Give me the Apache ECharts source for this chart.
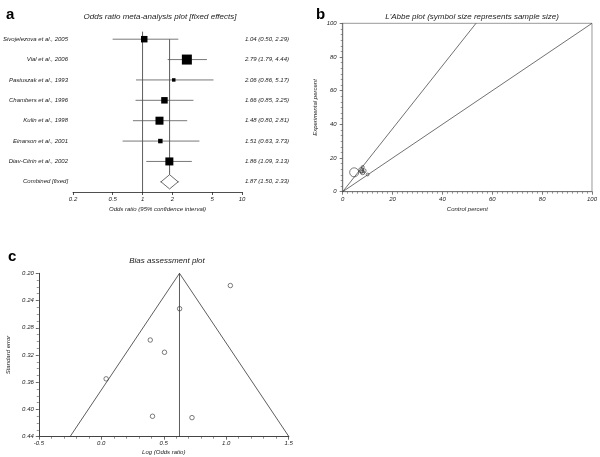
<!DOCTYPE html>
<html><head><meta charset="utf-8">
<script src="https://cdn.jsdelivr.net/npm/echarts@6/dist/echarts.min.js"></script>
<style>html,body{margin:0;padding:0;background:#fff}#c{width:600px;height:457px}</style>
</head><body><div id="c"></div><script>
// ---- Panel a: forest plot data ----
const studies = ['Sivojelezova et al., 2005','Vial et al., 2006','Pastuszak et al., 1993','Chambers et al., 1996','Kulin et al., 1998','Einarson et al., 2001','Diav-Citrin et al., 2002'];
const orEst  = [1.04, 2.79, 2.06, 1.66, 1.48, 1.51, 1.86];
const orLow  = [0.50, 1.79, 0.86, 0.85, 0.80, 0.63, 1.09];
const orHigh = [2.29, 4.44, 5.17, 3.25, 2.81, 3.73, 3.13];
const studyWeights = [0.42, 1.0, 0.12, 0.42, 0.64, 0.2, 0.64];
const pooledLabel = 'Combined [fixed]';
const pooledOR = 1.87, pooledLow = 1.50, pooledHigh = 2.33;
const oddsTicks = [0.2, 0.5, 1, 2, 5, 10];
// ---- Panel b: L'Abbe plot data ----
const controlPct = [4.6, 7.4, 8.0, 8.6, 8.0, 10.0, 7.6];
const experimentalPct = [11.5, 12.8, 14.6, 12.4, 11.4, 10.2, 12.0];
const sampleSize = [250, 80, 30, 50, 60, 25, 40];
// ---- Panel c: bias assessment (funnel) data ----
const funnelLogOR = [0.039, 1.033, 0.726, 0.506, 0.392, 0.410, 0.627];
const funnelSE    = [0.355, 0.218, 0.412, 0.316, 0.298, 0.410, 0.252];
const seRange = [0.20, 0.44];
const funnelHalfWidth = 0.876;   // half width of the funnel at the largest SE

const FONT = "'Liberation Sans', Arial, sans-serif";
const lg = Math.log10;
const fmtCI = (v, l, h) => `${v.toFixed(2)} (${l.toFixed(2)}, ${h.toFixed(2)})`;
const rowLabels = studies.concat([pooledLabel]);
const ciLabels = orEst.map((v, i) => fmtCI(v, orLow[i], orHigh[i])).concat([fmtCI(pooledOR, pooledLow, pooledHigh)]);
const forestData = orEst.map((v, i) => [lg(orLow[i]), lg(orHigh[i]), lg(v), i, 10 * Math.sqrt(studyWeights[i])]);
const pooledRow = studies.length;
const pooledLog = Math.log(pooledOR);
const lab = {fontFamily: FONT, fontStyle: 'italic', fontSize: 6, color: '#222'};

const chart = echarts.init(document.getElementById('c'));
const option = {
  animation: false,
  title: [
    {text: 'a', left: 1, top: 2, textStyle: {fontFamily: FONT, fontWeight: 'bold', fontSize: 15, color: '#000'}},
    {text: 'b', left: 311, top: 2, textStyle: {fontFamily: FONT, fontWeight: 'bold', fontSize: 15, color: '#000'}},
    {text: 'c', left: 3, top: 244, textStyle: {fontFamily: FONT, fontWeight: 'bold', fontSize: 15, color: '#000'}},
    {text: 'Odds ratio meta-analysis plot [fixed effects]', left: 155, top: 8, textAlign: 'center', textStyle: {fontFamily: FONT, fontStyle: 'italic', fontWeight: 'normal', fontSize: 8, color: '#222'}},
    {text: "L'Abbe plot (symbol size represents sample size)", left: 467, top: 8, textAlign: 'center', textStyle: {fontFamily: FONT, fontStyle: 'italic', fontWeight: 'normal', fontSize: 8, color: '#222'}},
    {text: 'Bias assessment plot', left: 162, top: 252, textAlign: 'center', textStyle: {fontFamily: FONT, fontStyle: 'italic', fontWeight: 'normal', fontSize: 8, color: '#222'}}
  ],
  grid: [
    {left: 67.7, top: 29, width: 174.3, height: 163},
    {left: 342.7, top: 23.3, width: 252.6, height: 168.4, show: true, borderColor: '#999', borderWidth: 1},
    {left: 38.8, top: 273.3, width: 249.9, height: 163.4}
  ],
  xAxis: [
    {gridIndex: 0, type: 'value', min: lg(oddsTicks[0]), max: lg(oddsTicks[oddsTicks.length - 1]),
     axisLine: {show: true, onZero: false, lineStyle: {color: '#222', width: 0.8}},
     axisTick: {show: true, length: 3, customValues: oddsTicks.map(lg), lineStyle: {color: '#222', width: 0.8}},
     axisLabel: Object.assign({margin: 4, customValues: oddsTicks.map(lg),
       formatter: v => { let best = oddsTicks[0]; oddsTicks.forEach(t => { if (Math.abs(lg(t) - v) < Math.abs(lg(best) - v)) best = t; }); return String(best); }}, lab),
     splitLine: {show: false},
     name: 'Odds ratio (95% confidence interval)', nameLocation: 'middle', nameGap: 14, nameTextStyle: lab},
    {gridIndex: 1, type: 'value', min: 0, max: 100, interval: 20,
     axisLine: {show: true, onZero: false, lineStyle: {color: '#777', width: 1.2}},
     axisTick: {show: true, length: 3, lineStyle: {color: '#555', width: 0.8}},
     minorTick: {show: true, splitNumber: 10, length: 2, lineStyle: {color: '#555', width: 0.6}},
     axisLabel: Object.assign({margin: 5}, lab), splitLine: {show: false},
     name: 'Control percent', nameLocation: 'middle', nameGap: 15, nameTextStyle: lab},
    {gridIndex: 2, type: 'value', min: -0.5, max: 1.5, interval: 0.5,
     axisLine: {show: true, onZero: false, lineStyle: {color: '#444', width: 1}},
     axisTick: {show: true, length: 3, lineStyle: {color: '#444', width: 0.8}},
     minorTick: {show: true, splitNumber: 5, length: 2, lineStyle: {color: '#444', width: 0.6}},
     axisLabel: Object.assign({margin: 4, formatter: v => v.toFixed(1)}, lab), splitLine: {show: false},
     name: 'Log (Odds ratio)', nameLocation: 'middle', nameGap: 13, nameTextStyle: lab}
  ],
  yAxis: [
    {gridIndex: 0, type: 'category', inverse: true, data: rowLabels,
     axisLine: {show: false}, axisTick: {show: false}, axisLabel: Object.assign({margin: 5}, lab)},
    {gridIndex: 0, type: 'category', inverse: true, position: 'right', data: ciLabels,
     axisLine: {show: false}, axisTick: {show: false}, axisLabel: Object.assign({margin: 3}, lab)},
    {gridIndex: 1, type: 'value', min: 0, max: 100, interval: 20,
     axisLine: {show: true, onZero: false, lineStyle: {color: '#777', width: 1.2}},
     axisTick: {show: true, length: 3, lineStyle: {color: '#555', width: 0.8}},
     minorTick: {show: true, splitNumber: 6, length: 2, lineStyle: {color: '#555', width: 0.6}},
     axisLabel: Object.assign({margin: 6}, lab), splitLine: {show: false},
     name: 'Experimental percent', nameLocation: 'middle', nameRotate: 90, nameGap: 24, nameTextStyle: lab},
    {gridIndex: 2, type: 'value', inverse: true, min: seRange[0], max: seRange[1], interval: 0.04,
     axisLine: {show: true, onZero: false, lineStyle: {color: '#444', width: 1}},
     axisTick: {show: true, length: 3, lineStyle: {color: '#444', width: 0.8}},
     minorTick: {show: true, splitNumber: 4, length: 2, lineStyle: {color: '#444', width: 0.6}},
     axisLabel: Object.assign({margin: 5, formatter: v => v.toFixed(2)}, lab), splitLine: {show: false},
     name: 'Standard error', nameLocation: 'middle', nameRotate: 90, nameGap: 27, nameTextStyle: lab}
  ],
  series: [
    // reference line at OR = 1
    {type: 'custom', xAxisIndex: 0, yAxisIndex: 0, data: [[0, 0]], encode: {x: 0, y: 1}, silent: true,
     renderItem(params, api) {
       const p = api.coord([api.value(0), api.value(1)]);
       const band = api.size([0, 1])[1];
       return {type: 'line', shape: {x1: p[0], y1: p[1] - 0.37 * band, x2: p[0], y2: params.coordSys.y + params.coordSys.height},
               style: {stroke: '#333', lineWidth: 0.8}};
     }},
    // pooled estimate vertical line
    {type: 'custom', xAxisIndex: 0, yAxisIndex: 0, data: [[lg(pooledOR), 0, pooledRow]], encode: {x: 0, y: 1}, silent: true,
     renderItem(params, api) {
       const p = api.coord([api.value(0), api.value(1)]);
       const q = api.coord([api.value(0), api.value(2)]);
       const band = api.size([0, 1])[1];
       return {type: 'line', shape: {x1: p[0], y1: p[1], x2: q[0], y2: q[1] - 0.35 * band},
               style: {stroke: '#333', lineWidth: 0.8}};
     }},
    // study CIs and squares
    {type: 'custom', xAxisIndex: 0, yAxisIndex: 0, data: forestData, encode: {x: [0, 1, 2], y: 3}, silent: true,
     renderItem(params, api) {
       const lo = api.coord([api.value(0), api.value(3)]);
       const hi = api.coord([api.value(1), api.value(3)]);
       const c = api.coord([api.value(2), api.value(3)]);
       const s = api.value(4);
       return {type: 'group', children: [
         {type: 'line', shape: {x1: lo[0], y1: lo[1], x2: hi[0], y2: hi[1]}, style: {stroke: '#555', lineWidth: 0.8}},
         {type: 'rect', shape: {x: c[0] - s / 2, y: c[1] - s / 2, width: s, height: s}, style: {fill: '#000'}}
       ]};
     }},
    // pooled diamond
    {type: 'custom', xAxisIndex: 0, yAxisIndex: 0, data: [[lg(pooledLow), lg(pooledHigh), lg(pooledOR), pooledRow]], encode: {x: [0, 1, 2], y: 3}, silent: true,
     renderItem(params, api) {
       const lo = api.coord([api.value(0), api.value(3)]);
       const hi = api.coord([api.value(1), api.value(3)]);
       const c = api.coord([api.value(2), api.value(3)]);
       const h = 0.35 * api.size([0, 1])[1];
       return {type: 'group', children: [
         {type: 'line', shape: {x1: lo[0], y1: lo[1], x2: hi[0], y2: hi[1]}, style: {stroke: '#666', lineWidth: 0.8}},
         {type: 'polygon', shape: {points: [[c[0] - (c[0] - lo[0]) * 0.9, c[1]], [c[0], c[1] - h], [c[0] + (hi[0] - c[0]) * 0.9, c[1]], [c[0], c[1] + h]]},
          style: {fill: '#fff', stroke: '#444', lineWidth: 0.8}}
       ]};
     }},
    // L'Abbe reference lines
    {type: 'line', xAxisIndex: 1, yAxisIndex: 2, data: [[0, 0], [100, 100]], symbol: 'none', silent: true,
     lineStyle: {color: '#333', width: 0.7}},
    {type: 'line', xAxisIndex: 1, yAxisIndex: 2, data: [[0, 0], [100 / pooledOR, 100]], symbol: 'none', silent: true,
     lineStyle: {color: '#333', width: 0.7}},
    {type: 'scatter', xAxisIndex: 1, yAxisIndex: 2, silent: true,
     data: controlPct.map((x, i) => [x, experimentalPct[i], sampleSize[i]]),
     symbol: 'circle', symbolSize: d => 0.57 * Math.sqrt(d[2]),
     itemStyle: {color: 'rgba(0,0,0,0)', borderColor: '#333', borderWidth: 0.8}},
    // funnel
    {type: 'line', xAxisIndex: 2, yAxisIndex: 3, silent: true, symbol: 'none',
     data: [[pooledLog - funnelHalfWidth, seRange[1]], [pooledLog, seRange[0]], [pooledLog + funnelHalfWidth, seRange[1]]],
     lineStyle: {color: '#333', width: 0.8}},
    {type: 'line', xAxisIndex: 2, yAxisIndex: 3, silent: true, symbol: 'none',
     data: [[pooledLog, seRange[0]], [pooledLog, seRange[1]]],
     lineStyle: {color: '#333', width: 0.8}},
    {type: 'scatter', xAxisIndex: 2, yAxisIndex: 3, silent: true,
     data: funnelLogOR.map((x, i) => [x, funnelSE[i]]),
     symbol: 'circle', symbolSize: 4.5,
     itemStyle: {color: 'rgba(0,0,0,0)', borderColor: '#333', borderWidth: 0.8}}
  ]
};
chart.setOption(option);
</script></body></html>
